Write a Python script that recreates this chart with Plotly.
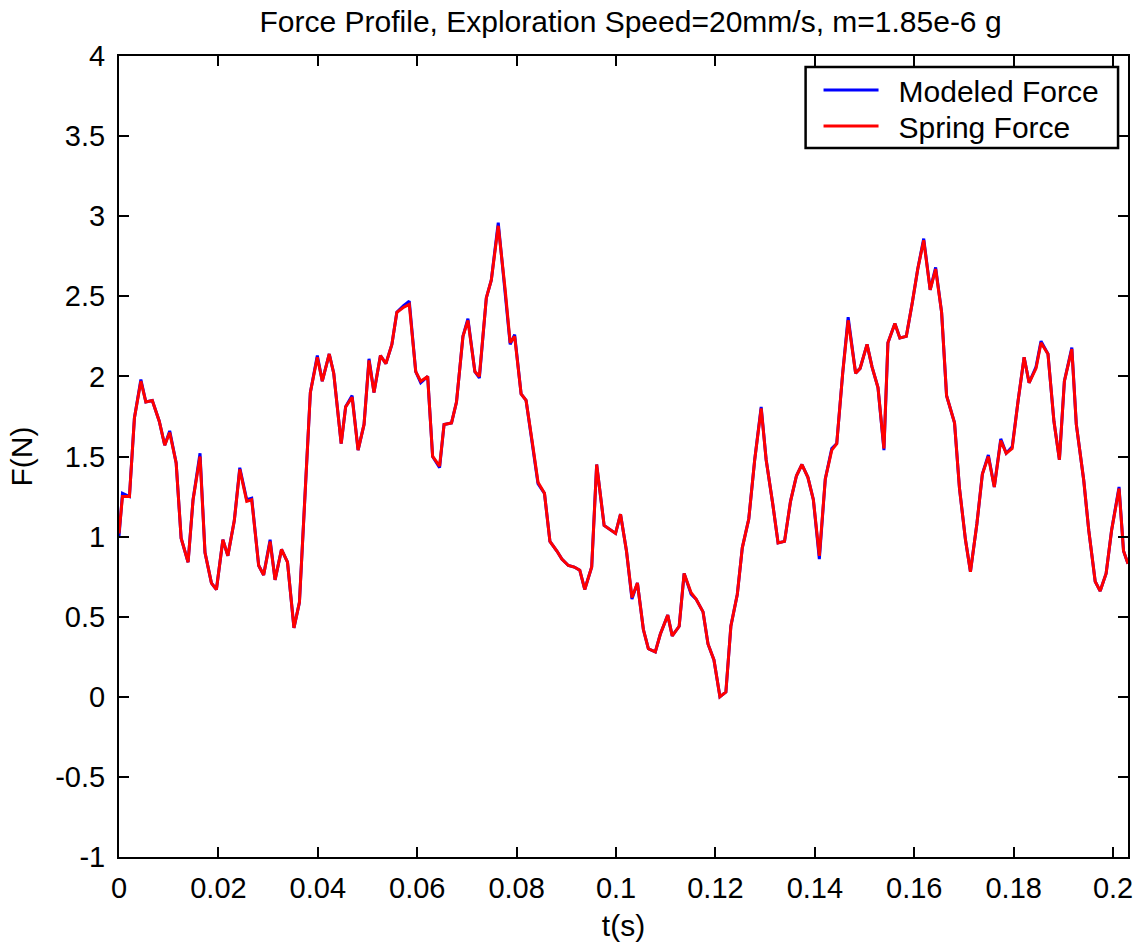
import plotly.graph_objects as go

# Time samples (s)
t = [0.0000, 0.0007, 0.0021, 0.0031, 0.0044, 0.0054, 0.0067, 0.0081, 0.0092, 0.0102,
     0.0115, 0.0125, 0.0139, 0.0149, 0.0163, 0.0173, 0.0186, 0.0196, 0.0209, 0.0219,
     0.0232, 0.0243, 0.0257, 0.0267, 0.0281, 0.0291, 0.0304, 0.0314, 0.0327, 0.0339,
     0.0352, 0.0363, 0.0385, 0.0399, 0.0409, 0.0423, 0.0432, 0.0447, 0.0456, 0.0469,
     0.0481, 0.0493, 0.0503, 0.0513, 0.0526, 0.0537, 0.0549, 0.0559, 0.0572, 0.0584,
     0.0597, 0.0607, 0.0621, 0.0631, 0.0645, 0.0654, 0.0669, 0.0679, 0.0692, 0.0702,
     0.0716, 0.0725, 0.0739, 0.0749, 0.0763, 0.0777, 0.0787, 0.0796, 0.0809, 0.0819,
     0.0831, 0.0843, 0.0856, 0.0867, 0.0881, 0.0891, 0.0904, 0.0916, 0.0927, 0.0937,
     0.0951, 0.0961, 0.0976, 0.0986, 0.0999, 0.1009, 0.1021, 0.1032, 0.1043, 0.1055,
     0.1065, 0.1079, 0.1089, 0.1104, 0.1113, 0.1127, 0.1137, 0.1151, 0.1161, 0.1175,
     0.1185, 0.1197, 0.1209, 0.1221, 0.1231, 0.1244, 0.1254, 0.1267, 0.1279, 0.1292,
     0.1302, 0.1315, 0.1326, 0.1339, 0.1351, 0.1363, 0.1374, 0.1386, 0.1397, 0.1409,
     0.1421, 0.1434, 0.1444, 0.1456, 0.1467, 0.1482, 0.1491, 0.1505, 0.1515, 0.1527,
     0.1539, 0.1547, 0.1561, 0.1571, 0.1584, 0.1596, 0.1607, 0.1619, 0.1632, 0.1643,
     0.1655, 0.1665, 0.1681, 0.1691, 0.1703, 0.1713, 0.1726, 0.1737, 0.1749, 0.1761,
     0.1774, 0.1785, 0.1797, 0.1809, 0.1821, 0.1831, 0.1845, 0.1855, 0.1869, 0.1881,
     0.1892, 0.1902, 0.1917, 0.1926, 0.1941, 0.1951, 0.1964, 0.1974, 0.1986, 0.1997,
     0.2012, 0.2021, 0.2030]

# Spring force (N)
spring_force = [1.02, 1.25, 1.25, 1.74, 1.97, 1.84, 1.85, 1.72, 1.57, 1.65,
                1.46, 0.99, 0.84, 1.23, 1.50, 0.90, 0.71, 0.67, 0.98, 0.88,
                1.10, 1.42, 1.22, 1.23, 0.82, 0.76, 0.97, 0.73, 0.92, 0.84,
                0.43, 0.59, 1.90, 2.12, 1.97, 2.14, 2.02, 1.58, 1.81, 1.87,
                1.54, 1.70, 2.10, 1.90, 2.13, 2.08, 2.20, 2.40, 2.43, 2.45,
                2.03, 1.97, 2.00, 1.50, 1.44, 1.70, 1.71, 1.84, 2.25, 2.35,
                2.03, 2.00, 2.49, 2.60, 2.94, 2.54, 2.21, 2.25, 1.89, 1.85,
                1.60, 1.34, 1.27, 0.97, 0.91, 0.86, 0.82, 0.81, 0.79, 0.67,
                0.81, 1.45, 1.07, 1.05, 1.02, 1.14, 0.91, 0.62, 0.71, 0.42,
                0.30, 0.28, 0.39, 0.51, 0.38, 0.44, 0.77, 0.65, 0.61, 0.53,
                0.33, 0.23, 0.00, 0.03, 0.44, 0.64, 0.93, 1.11, 1.48, 1.80,
                1.48, 1.21, 0.96, 0.97, 1.22, 1.38, 1.45, 1.37, 1.23, 0.88,
                1.36, 1.54, 1.58, 2.02, 2.35, 2.02, 2.05, 2.20, 2.06, 1.93,
                1.55, 2.21, 2.33, 2.24, 2.25, 2.46, 2.67, 2.85, 2.54, 2.67,
                2.40, 1.88, 1.71, 1.30, 0.98, 0.78, 1.08, 1.39, 1.50, 1.31,
                1.60, 1.52, 1.55, 1.85, 2.12, 1.96, 2.05, 2.21, 2.14, 1.72,
                1.48, 1.97, 2.17, 1.70, 1.35, 1.04, 0.72, 0.66, 0.77, 1.04,
                1.30, 0.91, 0.83]

# Modeled force (N)
modeled_force = [1.00, 1.27, 1.25, 1.74, 1.98, 1.84, 1.85, 1.72, 1.57, 1.66,
                 1.46, 0.99, 0.84, 1.23, 1.52, 0.90, 0.71, 0.67, 0.98, 0.88,
                 1.10, 1.43, 1.23, 1.24, 0.82, 0.76, 0.98, 0.73, 0.92, 0.84,
                 0.43, 0.59, 1.90, 2.13, 1.97, 2.14, 2.02, 1.58, 1.81, 1.88,
                 1.54, 1.70, 2.11, 1.90, 2.13, 2.08, 2.20, 2.40, 2.44, 2.47,
                 2.03, 1.96, 2.00, 1.50, 1.43, 1.70, 1.71, 1.84, 2.25, 2.36,
                 2.03, 1.99, 2.49, 2.60, 2.96, 2.54, 2.20, 2.26, 1.89, 1.85,
                 1.60, 1.33, 1.27, 0.97, 0.91, 0.86, 0.82, 0.81, 0.79, 0.67,
                 0.81, 1.45, 1.07, 1.05, 1.02, 1.14, 0.91, 0.61, 0.71, 0.42,
                 0.30, 0.28, 0.39, 0.51, 0.38, 0.44, 0.77, 0.64, 0.61, 0.53,
                 0.33, 0.23, 0.00, 0.03, 0.44, 0.64, 0.93, 1.11, 1.48, 1.81,
                 1.48, 1.21, 0.96, 0.97, 1.22, 1.38, 1.45, 1.37, 1.23, 0.86,
                 1.36, 1.55, 1.58, 2.02, 2.37, 2.02, 2.05, 2.20, 2.06, 1.93,
                 1.54, 2.21, 2.33, 2.24, 2.25, 2.46, 2.67, 2.86, 2.54, 2.68,
                 2.40, 1.88, 1.71, 1.30, 0.98, 0.78, 1.08, 1.39, 1.51, 1.31,
                 1.61, 1.52, 1.56, 1.85, 2.12, 1.96, 2.06, 2.22, 2.14, 1.72,
                 1.48, 1.97, 2.18, 1.70, 1.35, 1.04, 0.72, 0.66, 0.77, 1.04,
                 1.31, 0.91, 0.83]

x_ticks = [0, 0.02, 0.04, 0.06, 0.08, 0.1, 0.12, 0.14, 0.16, 0.18, 0.2]
x_labels = ["0", "0.02", "0.04", "0.06", "0.08", "0.1", "0.12", "0.14", "0.16", "0.18", "0.2"]
y_ticks = [-1, -0.5, 0, 0.5, 1, 1.5, 2, 2.5, 3, 3.5, 4]
y_labels = ["-1", "-0.5", "0", "0.5", "1", "1.5", "2", "2.5", "3", "3.5", "4"]

FONT = "Liberation Sans, Arial, sans-serif"
TICK_SIZE = 29
TEXT_SIZE = 30

# plot area in pixels
L, T, B = 119, 56, 89
W, H = 1133, 946
plot_w = W - L
plot_h = H - T - B


def px_x(px):
    return (px - L) / plot_w


def px_y(py):
    return (H - B - py) / plot_h


fig = go.Figure()
fig.add_trace(go.Scatter(x=t, y=modeled_force, mode="lines", name="\u2002Modeled Force",
                         line=dict(color="#0000ff", width=3), legend="legend"))
fig.add_trace(go.Scatter(x=t, y=spring_force, mode="lines", name="\u2002Spring Force",
                         line=dict(color="#ff0000", width=3), legend="legend2"))

axis_common = dict(
    showgrid=False, zeroline=False, showline=True, linecolor="black", linewidth=2,
    ticks="inside", ticklen=10, tickwidth=1.5, tickcolor="black", mirror="ticks",
    tickfont=dict(family=FONT, size=TICK_SIZE, color="black"),
    ticklabeloverflow="allow",
)

legend_common = dict(
    xanchor="left", yanchor="middle", x=px_x(822),
    bgcolor="rgba(0,0,0,0)", borderwidth=0,
    font=dict(family=FONT, size=TEXT_SIZE, color="black"),
    itemwidth=55,
)

fig.update_layout(
    width=W, height=H,
    margin=dict(l=L, r=0, t=T, b=B),
    paper_bgcolor="white", plot_bgcolor="white",
    font=dict(family=FONT, size=TEXT_SIZE, color="black"),
    title=dict(text="Force Profile, Exploration Speed=20mm/s, m=1.85e-6 g",
               x=0.507, xref="paper", xanchor="center",
               y=0.977, yref="container", yanchor="middle",
               font=dict(family=FONT, size=TEXT_SIZE, color="black")),
    xaxis=dict(range=[0, 0.203], tickvals=x_ticks, ticktext=x_labels,
               title=dict(text="t(s)", standoff=12,
                          font=dict(family=FONT, size=TEXT_SIZE, color="black")),
               ticklabelstandoff=4, **axis_common),
    yaxis=dict(range=[-1, 4], tickvals=y_ticks, ticktext=y_labels,
               title=dict(text="F(N)", standoff=14,
                          font=dict(family=FONT, size=TEXT_SIZE, color="black")),
               ticklabelstandoff=6, **axis_common),
    legend=dict(y=px_y(90), **legend_common),
    legend2=dict(y=px_y(126), **legend_common),
    showlegend=True,
    shapes=[dict(type="rect", xref="paper", yref="paper",
                 x0=px_x(809), x1=px_x(1123), y0=px_y(148), y1=px_y(67),
                 line=dict(color="black", width=2.5), fillcolor="white",
                 layer="above")],
)

fig.write_html("out.html")
